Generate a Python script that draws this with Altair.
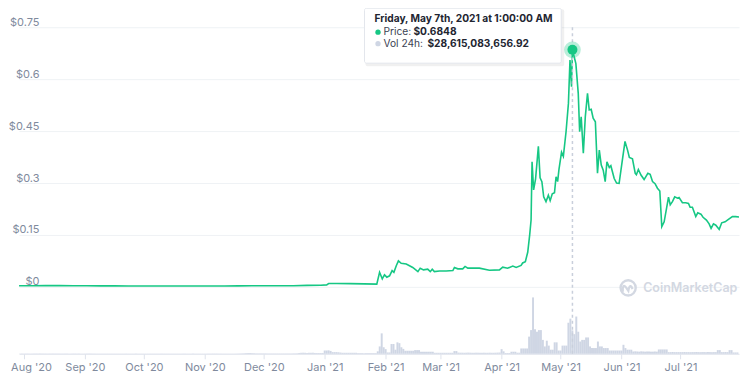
import altair as alt
import pandas as pd

# ---------------- data ----------------
price_time = [
    "2020-07-29T12:00", "2020-08-05T00:00", "2020-08-12T00:00", "2020-08-19T00:00",
    "2020-08-26T00:00", "2020-09-02T00:00", "2020-09-09T00:00", "2020-09-16T00:00",
    "2020-09-23T00:00", "2020-09-30T00:00", "2020-10-07T00:00", "2020-10-14T00:00",
    "2020-10-21T00:00", "2020-10-28T00:00", "2020-11-04T00:00", "2020-11-11T00:00",
    "2020-11-18T00:00", "2020-11-25T00:00", "2020-12-02T00:00", "2020-12-09T00:00",
    "2020-12-16T00:00", "2020-12-23T00:00", "2020-12-30T00:00", "2021-01-02T00:00",
    "2021-01-03T00:00", "2021-01-07T00:00", "2021-01-14T00:00", "2021-01-21T00:00",
    "2021-01-27T12:00", "2021-01-28T22:00", "2021-01-30T07:00", "2021-01-31T10:00",
    "2021-02-01T14:00", "2021-02-03T00:00", "2021-02-04T07:00", "2021-02-05T05:00",
    "2021-02-06T10:00", "2021-02-07T12:00", "2021-02-08T22:00", "2021-02-11T12:00",
    "2021-02-14T19:00", "2021-02-17T10:00", "2021-02-18T14:00", "2021-02-20T07:00",
    "2021-02-22T10:00", "2021-02-23T17:00", "2021-02-24T17:00", "2021-02-25T19:00",
    "2021-02-28T10:00", "2021-03-03T19:00", "2021-03-07T05:00", "2021-03-08T00:00",
    "2021-03-09T17:00", "2021-03-12T05:00", "2021-03-13T10:00", "2021-03-14T19:00",
    "2021-03-20T17:00", "2021-03-25T19:00", "2021-03-30T22:00", "2021-04-01T14:00",
    "2021-04-04T02:00", "2021-04-06T17:00", "2021-04-08T10:00", "2021-04-10T22:00",
    "2021-04-11T17:00", "2021-04-13T02:00", "2021-04-14T07:00", "2021-04-15T07:00",
    "2021-04-16T00:00", "2021-04-16T12:00", "2021-04-17T07:00", "2021-04-18T07:00",
    "2021-04-19T17:00", "2021-04-20T14:00", "2021-04-21T12:00", "2021-04-22T10:00",
    "2021-04-23T14:00", "2021-04-24T19:00", "2021-04-25T17:00", "2021-04-26T19:00",
    "2021-04-27T22:00", "2021-04-28T17:00", "2021-04-29T12:00", "2021-04-30T05:00",
    "2021-05-01T12:00", "2021-05-02T10:00", "2021-05-03T19:00", "2021-05-05T00:00",
    "2021-05-05T19:00", "2021-05-06T14:00", "2021-05-07T01:00", "2021-05-08T19:00",
    "2021-05-10T00:00", "2021-05-10T17:00", "2021-05-11T12:00", "2021-05-12T14:00",
    "2021-05-13T14:00", "2021-05-14T17:00", "2021-05-15T14:00", "2021-05-16T14:00",
    "2021-05-17T14:00", "2021-05-18T17:00", "2021-05-19T19:00", "2021-05-20T17:00",
    "2021-05-21T17:00", "2021-05-22T17:00", "2021-05-23T17:00", "2021-05-24T14:00",
    "2021-05-25T19:00", "2021-05-26T14:00", "2021-05-28T07:00", "2021-05-29T12:00",
    "2021-05-30T19:00", "2021-06-01T05:00", "2021-06-02T19:00", "2021-06-04T02:00",
    "2021-06-05T00:00", "2021-06-06T14:00", "2021-06-08T00:00", "2021-06-08T14:00",
    "2021-06-09T14:00", "2021-06-10T22:00", "2021-06-12T12:00", "2021-06-14T10:00",
    "2021-06-15T14:00", "2021-06-16T19:00", "2021-06-18T02:00", "2021-06-19T07:00",
    "2021-06-20T12:00", "2021-06-21T12:00", "2021-06-22T17:00", "2021-06-23T22:00",
    "2021-06-24T22:00", "2021-06-25T19:00", "2021-06-26T22:00", "2021-06-28T02:00",
    "2021-06-29T12:00", "2021-06-30T07:00", "2021-07-02T00:00", "2021-07-03T17:00",
    "2021-07-05T02:00", "2021-07-05T22:00", "2021-07-07T02:00", "2021-07-08T19:00",
    "2021-07-09T19:00", "2021-07-11T10:00", "2021-07-12T12:00", "2021-07-14T05:00",
    "2021-07-15T14:00", "2021-07-16T14:00", "2021-07-17T19:00", "2021-07-19T00:00",
    "2021-07-20T17:00", "2021-07-22T00:00", "2021-07-23T17:00", "2021-07-25T10:00",
    "2021-07-27T10:00", "2021-07-29T02:00", "2021-07-30T19:00",
]
price_usd = [
    0.0033, 0.0034, 0.0035, 0.0036,
    0.0034, 0.0033, 0.0029, 0.0029,
    0.0027, 0.0026, 0.0025, 0.0026,
    0.0026, 0.0026, 0.0026, 0.0026,
    0.0029, 0.0034, 0.0033, 0.0033,
    0.0034, 0.0044, 0.0047, 0.0058,
    0.0095, 0.0098, 0.0093, 0.0085,
    0.0080, 0.042, 0.023, 0.035,
    0.028, 0.032, 0.047, 0.042,
    0.061, 0.075, 0.068, 0.066,
    0.056, 0.044, 0.054, 0.049,
    0.051, 0.044, 0.051, 0.044,
    0.046, 0.046, 0.047, 0.056,
    0.052, 0.052, 0.059, 0.054,
    0.054, 0.048, 0.049, 0.057,
    0.054, 0.060, 0.056, 0.062,
    0.069, 0.073, 0.100, 0.150,
    0.193, 0.361, 0.280, 0.312,
    0.406, 0.315, 0.304, 0.260,
    0.246, 0.265, 0.249, 0.269,
    0.272, 0.318, 0.304, 0.340,
    0.389, 0.377, 0.448, 0.530,
    0.655, 0.578, 0.6848, 0.645,
    0.559, 0.448, 0.491, 0.386,
    0.491, 0.559, 0.511, 0.513,
    0.487, 0.477, 0.328, 0.395,
    0.352, 0.337, 0.304, 0.361,
    0.345, 0.350, 0.313, 0.300,
    0.299, 0.357, 0.420, 0.395,
    0.374, 0.370, 0.328, 0.324,
    0.339, 0.323, 0.310, 0.328,
    0.325, 0.304, 0.298, 0.285,
    0.277, 0.174, 0.188, 0.227,
    0.259, 0.237, 0.246, 0.260,
    0.256, 0.258, 0.243, 0.243,
    0.241, 0.230, 0.230, 0.203,
    0.214, 0.210, 0.201, 0.193,
    0.182, 0.169, 0.182, 0.178,
    0.166, 0.185, 0.188, 0.195,
    0.203, 0.203, 0.202,
]

# daily 24h volume, billions of USD, one list per month (first day given)
vol_jul20 = [0.2, 0.2]
vol_aug20 = [0.25, 0.3, 0.3, 0.25, 0.25, 0.3, 0.35, 0.3, 0.4, 0.35, 0.3, 0.3, 0.25, 0.3, 0.3, 0.35,
             0.3, 0.3, 0.3, 0.25, 0.25, 0.2, 0.2, 0.2, 0.25, 0.3, 0.3, 0.25, 0.2, 0.2, 0.2]
vol_sep20 = [0.25, 0.3, 0.35, 0.3, 0.25, 0.25, 0.2, 0.2, 0.2, 0.2, 0.2, 0.2, 0.2, 0.2, 0.2,
             0.2, 0.2, 0.2, 0.2, 0.2, 0.2, 0.25, 0.2, 0.2, 0.2, 0.2, 0.2, 0.2, 0.2, 0.2]
vol_oct20 = [0.2, 0.2, 0.2, 0.2, 0.2, 0.2, 0.2, 0.2, 0.2, 0.25, 0.2, 0.2, 0.2, 0.2, 0.2, 0.2,
             0.2, 0.2, 0.2, 0.2, 0.25, 0.25, 0.2, 0.2, 0.2, 0.2, 0.2, 0.2, 0.2, 0.2, 0.2]
vol_nov20 = [0.2, 0.2, 0.25, 0.25, 0.3, 0.3, 0.3, 0.25, 0.25, 0.2, 0.2, 0.2, 0.2, 0.2, 0.2,
             0.2, 0.25, 0.3, 0.4, 0.5, 0.6, 0.8, 0.9, 1.0, 0.8, 0.7, 0.5, 0.5, 0.5, 0.5]
vol_dec20 = [0.5, 0.5, 0.4, 0.4, 0.4, 0.4, 0.4, 0.4, 0.4, 0.4, 0.4, 0.4, 0.4, 0.4, 0.4, 0.5,
             0.5, 0.6, 1.0, 1.2, 1.3, 1.2, 1.1, 1.2, 1.2, 1.3, 1.0, 0.9, 0.9, 0.9, 1.0]
vol_jan21 = [4.0, 4.0, 4.2, 3.5, 2.0, 2.0, 2.0, 1.8, 1.5, 1.2, 1.2, 1.2, 1.2, 1.2, 1.2, 1.2,
             1.2, 0.8, 0.8, 0.8, 0.8, 0.8, 0.8, 0.8, 0.8, 0.8, 0.8, 3.0, 9.0, 25.0, 8.0]
vol_feb21 = [5.7, 1.6, 1.6, 12.0, 12.0, 5.0, 14.0, 13.0, 8.0, 6.0, 3.7, 3.7, 3.7, 3.7,
             3.7, 4.5, 4.5, 4.5, 2.5, 2.5, 2.5, 2.5, 2.5, 2.5, 2.5, 1.2, 1.2, 1.2]
vol_mar21 = [1.2, 1.2, 1.2, 1.2, 1.2, 1.2, 1.2, 3.3, 3.3, 1.4, 1.3, 1.3, 1.2, 1.3, 1.4, 1.3,
             1.2, 1.2, 1.3, 1.3, 1.2, 1.2, 1.3, 1.2, 1.2, 1.3, 1.2, 1.2, 1.3, 1.4, 1.5]
vol_apr21 = [5.7, 3.0, 0.9, 0.9, 0.9, 2.5, 2.5, 2.5, 1.3, 1.3, 6.5, 6.5, 6.5, 6.5, 21.0,
             29.0, 69.0, 30.0, 27.0, 29.0, 29.0, 17.0, 9.0, 16.0, 10.0, 5.0, 5.0, 14.0, 14.0, 4.0]
vol_may21 = [4.0, 10.0, 10.0, 10.0, 38.0, 43.0, 28.615, 24.0, 45.6, 27.0, 15.0, 17.0, 17.0,
             20.0, 20.0, 9.0, 7.0, 7.0, 7.0, 15.0, 9.0, 9.0, 7.0, 7.0, 7.0, 4.0, 4.0, 4.0,
             4.0, 4.0, 4.0]
vol_jun21 = [4.0, 11.0, 7.0, 5.0, 5.0, 5.0, 2.8, 3.0, 2.8, 2.6, 3.0, 2.8, 2.6, 2.8, 2.8,
             2.6, 2.6, 2.8, 2.6, 5.3, 5.3, 5.3, 5.3, 5.3, 2.0, 2.0, 2.2, 2.0, 2.0, 2.0]
vol_jul21 = [2.0, 2.0, 2.1, 2.0, 2.0, 1.9, 2.0, 2.0, 2.1, 2.0, 1.9, 2.0, 2.0, 2.0, 2.1,
             2.0, 1.9, 2.0, 2.0, 4.5, 4.5, 2.0, 2.0, 2.1, 2.0, 4.5, 4.5, 1.6, 1.6, 1.6]
vol_blocks = [
    ("2020-07-30", vol_jul20), ("2020-08-01", vol_aug20), ("2020-09-01", vol_sep20),
    ("2020-10-01", vol_oct20), ("2020-11-01", vol_nov20), ("2020-12-01", vol_dec20),
    ("2021-01-01", vol_jan21), ("2021-02-01", vol_feb21), ("2021-03-01", vol_mar21),
    ("2021-04-01", vol_apr21), ("2021-05-01", vol_may21), ("2021-06-01", vol_jun21),
    ("2021-07-01", vol_jul21),
]

month_ticks = ["2020-08-01", "2020-09-01", "2020-10-01", "2020-11-01", "2020-12-01",
               "2021-01-01", "2021-02-01", "2021-03-01", "2021-04-01", "2021-05-01",
               "2021-06-01", "2021-07-01"]
price_ticks = [0, 0.15, 0.3, 0.45, 0.6, 0.75]
x_range = ["2020-07-29T11:00", "2021-07-30T19:00"]

hover_time = "2021-05-07T01:00"
hover_price = 0.6848
hover_title = "Friday, May 7th, 2021 at 1:00:00 AM"
hover_price_text = "$0.6848"
hover_vol_text = "$28,615,083,656.92"

# ---------------- build ----------------
W, H = 721, 346
GREEN = "#16c784"
FONT = "Inter"
LABEL = "#808a9d"


def ms(s):
    return int(pd.Timestamp(s, tz="UTC").value // 10**6)


price_df = pd.DataFrame({"t": [s + "Z" for s in price_time], "p": price_usd})

rows = []
for start, vals in vol_blocks:
    days = pd.date_range(start, periods=len(vals), freq="D")
    for d, v in zip(days, vals):
        rows.append({
            "t0": (d - pd.Timedelta(hours=12)).strftime("%Y-%m-%dT%H:%MZ"),
            "t1": (d + pd.Timedelta(hours=12)).strftime("%Y-%m-%dT%H:%MZ"),
            "v": v,
        })
vol_df = pd.DataFrame(rows)

hover_df = pd.DataFrame({"t": [hover_time + "Z"], "p": [hover_price]})
one = pd.DataFrame({"k": [0]})

xscale = alt.Scale(type="utc", domain=[ms(x_range[0]), ms(x_range[1])], nice=False)
pscale = alt.Scale(domain=[-0.1933, 0.8048], nice=False, zero=False)
vscale = alt.Scale(domain=[0, 423], nice=False)

first_tick = ms(month_ticks[0])
xaxis = alt.Axis(
    values=[ms(m) for m in month_ticks],
    labelExpr="utcFormat(datum.value, \"%b '%y\")",
    grid=False, domainColor="#dfe3ec", tickColor="#dfe3ec", tickSize=5,
    labelColor=LABEL, labelFont=FONT, labelFontSize=11, labelPadding=3,
    labelOffset={"condition": {"test": f"datum.value <= {first_tick}", "value": 7}, "value": 0},
    title=None, labelFlush=False, labelOverlap=False,
)
paxis = alt.Axis(
    values=price_ticks, labelExpr="'$' + datum.value", orient="left",
    domain=False, ticks=False, tickSize=0, labelPadding=-20, labelAlign="right",
    labelBaseline="bottom", grid=True, gridColor="#eff2f5", gridWidth=1,
    labelColor=LABEL, labelFont=FONT, labelFontSize=11, title=None,
)

bars = alt.Chart(vol_df).mark_rect(color="#cfd6e4", strokeWidth=0).encode(
    x=alt.X("t0:T", scale=xscale, axis=xaxis),
    x2="t1:T",
    y=alt.Y("v:Q", scale=vscale, axis=None),
    y2=alt.datum(0),
)

line = alt.Chart(price_df).mark_line(color=GREEN, strokeWidth=1.6).encode(
    x=alt.X("t:T", scale=xscale),
    y=alt.Y("p:Q", scale=pscale, axis=paxis),
)

rule = alt.Chart(hover_df).mark_rule(color="#c9cfdb", strokeDash=[3, 3], strokeWidth=1.5).encode(
    x=alt.X("t:T", scale=xscale), y=alt.value(19), y2=alt.value(H)
)

halo = alt.Chart(hover_df).mark_circle(color=GREEN, opacity=0.3, size=280).encode(
    x=alt.X("t:T", scale=xscale), y=alt.Y("p:Q", scale=pscale, axis=None)
)
dot = alt.Chart(hover_df).mark_circle(color=GREEN, opacity=1, size=100).encode(
    x=alt.X("t:T", scale=xscale), y=alt.Y("p:Q", scale=pscale, axis=None)
)

# tooltip box
bx0, bx1, by0, by1 = 346, 543, 0, 55
shadow = alt.Chart(one).mark_rect(color="#000000", opacity=0.06, cornerRadius=2).encode(
    x=alt.value(bx0 + 1), x2=alt.value(bx1 + 3), y=alt.value(by0 + 1), y2=alt.value(by1 + 3)
)
box = alt.Chart(one).mark_rect(fill="white", stroke="#e3e6ec", strokeWidth=1, cornerRadius=2).encode(
    x=alt.value(bx0), x2=alt.value(bx1), y=alt.value(by0), y2=alt.value(by1)
)


def txt(s, x, y, bold=False, color="#222531", size=10.2, weight=None):
    return alt.Chart(one).mark_text(
        align="left", baseline="middle", font=FONT, fontSize=size,
        fontWeight=weight if weight else ("bold" if bold else "normal"), color=color,
    ).encode(x=alt.value(x), y=alt.value(y), text=alt.value(s))


t1 = txt(hover_title, 356, 11, bold=True)
d2 = alt.Chart(one).mark_circle(color=GREEN, size=28, opacity=1).encode(x=alt.value(359.5), y=alt.value(24))
t2a = txt("Price:", 365, 24, color="#3a4253")
t2b = txt(hover_price_text, 395, 24, bold=True)
d3 = alt.Chart(one).mark_circle(color="#cfd6e4", size=28, opacity=1).encode(x=alt.value(359.5), y=alt.value(35.5))
t3a = txt("Vol 24h:", 365, 35.5, color="#3a4253")
t3b = txt(hover_vol_text, 409, 35.5, bold=True)

# watermark
WM = "#d3d8e2"
logo_c = alt.Chart(one).mark_point(shape="circle", filled=False, color=WM, strokeWidth=2.4, size=230, opacity=1).encode(
    x=alt.value(610), y=alt.value(280)
)
logo_m = alt.Chart(one).mark_point(
    shape="M -0.62 0.45 L -0.62 0.05 Q -0.55 -0.45 -0.25 -0.05 L 0.02 0.35 Q 0.15 -0.45 0.4 -0.1 L 0.5 0.15",
    filled=False, color=WM, strokeWidth=2.2, size=300, opacity=1,
).encode(x=alt.value(610), y=alt.value(280))
wm_text = txt("CoinMarketCap", 625, 280, color=WM, size=12.5, weight=600)

chart = alt.layer(
    bars, line, rule, halo, dot, shadow, box, t1, d2, t2a, t2b, d3, t3a, t3b,
    logo_c, logo_m, wm_text,
).resolve_scale(y="independent").properties(
    width=W, height=H,
    autosize=alt.AutoSizeParams(type="none"),
    padding={"left": 11, "top": 0, "right": 8, "bottom": 20},
    background="white",
).configure_view(stroke=None)

chart.save("out.html", embed_options={"renderer": "svg", "actions": False})
